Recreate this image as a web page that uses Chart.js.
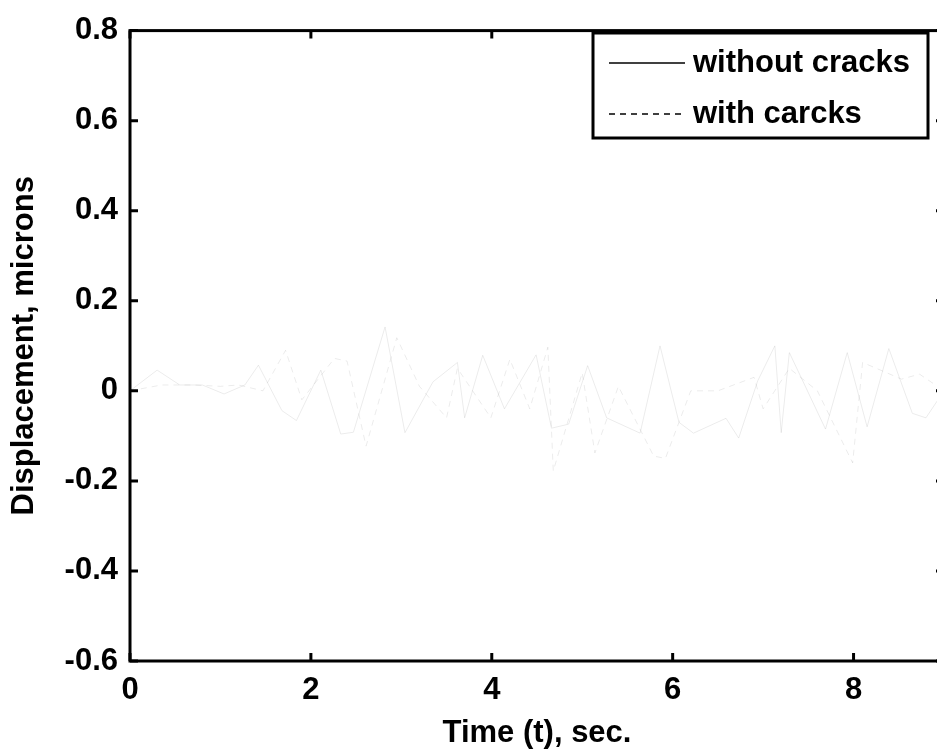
<!DOCTYPE html>
<html>
<head>
<meta charset="utf-8">
<script src="https://cdn.jsdelivr.net/npm/chart.js@4.4.0/dist/chart.umd.min.js"></script>
<style>
    body { margin: 0; background: #fff; overflow: hidden; }
    #wrap { width: 950px; height: 755px; }
</style>
</head>
<body>
<div id="wrap"><canvas id="dispChart" width="950" height="755"></canvas></div>
<script>
// values (the traces are very faint, mostly specks)
const timeWithout = [0, 0.3, 0.55, 0.8, 1.04, 1.27, 1.42, 1.68, 1.84, 2.11, 2.33, 2.47, 2.82, 3.04, 3.35, 3.62, 3.7, 3.9, 4.14, 4.49, 4.66, 4.85, 5.06, 5.27, 5.64, 5.86, 6.07, 6.23, 6.59, 6.73, 6.94, 7.13, 7.2, 7.29, 7.69, 7.93, 8.15, 8.39, 8.65, 8.8, 9.0];
const dispWithout = [0, 0.046, 0.013, 0.013, -0.007, 0.013, 0.057, -0.044, -0.066, 0.046, -0.096, -0.092, 0.142, -0.093, 0.02, 0.063, -0.06, 0.079, -0.04, 0.08, -0.083, -0.074, 0.056, -0.06, -0.094, 0.1, -0.07, -0.094, -0.061, -0.105, 0.022, 0.1, -0.093, 0.085, -0.085, 0.085, -0.08, 0.094, -0.05, -0.06, 0];

const timeWith = [0, 0.35, 0.7, 1.0, 1.2, 1.47, 1.72, 1.9, 2.26, 2.4, 2.61, 2.95, 3.2, 3.5, 3.62, 3.99, 4.2, 4.42, 4.62, 4.68, 5.0, 5.14, 5.4, 5.79, 5.92, 6.2, 6.5, 6.9, 7.0, 7.29, 7.6, 7.99, 8.1, 8.53, 8.73, 9.0];
const dispWith = [0, 0.013, 0.013, 0.01, 0.013, 0, 0.09, -0.02, 0.072, 0.066, -0.123, 0.118, 0.01, -0.06, 0.05, -0.06, 0.07, -0.04, 0.097, -0.178, 0.04, -0.138, 0.01, -0.145, -0.15, 0, 0, 0.03, -0.04, 0.05, 0, -0.16, 0.063, 0.026, 0.037, 0];

const seriesLabels = ['without cracks', 'with carcks'];
const xTicks = [0, 2, 4, 6, 8];
const yTicks = [-0.6, -0.4, -0.2, 0, 0.2, 0.4, 0.6, 0.8];

const FONT = 'Liberation Sans';
const labelFont = { family: FONT, size: 31, weight: 'bold' };

const toPoints = (xs, ys) => xs.map((x, i) => ({ x: x, y: ys[i] }));

// box round the axes with inward ticks, matlab style
const framePlugin = {
    id: 'frame',
    afterDatasetsDraw(chart) {
        const { ctx, chartArea: a, scales } = chart;
        ctx.save();
        ctx.strokeStyle = '#000';
        ctx.lineWidth = 3;
        ctx.strokeRect(a.left, a.top, a.right - a.left, a.bottom - a.top);
        const len = 8;
        ctx.beginPath();
        xTicks.forEach(v => {
            const px = scales.x.getPixelForValue(v);
            ctx.moveTo(px, a.bottom); ctx.lineTo(px, a.bottom - len);
            ctx.moveTo(px, a.top); ctx.lineTo(px, a.top + len);
        });
        yTicks.forEach(v => {
            const py = scales.y.getPixelForValue(v);
            ctx.moveTo(a.left, py); ctx.lineTo(a.left + len, py);
            ctx.moveTo(a.right, py); ctx.lineTo(a.right - len, py);
        });
        ctx.stroke();
        ctx.restore();
    }
};

// legend box in the top right corner
const boxLegend = {
    id: 'boxLegend',
    afterDraw(chart) {
        const ctx = chart.ctx;
        const bx = 593, by = 33, bw = 335, bh = 105;
        ctx.save();
        ctx.fillStyle = '#fff';
        ctx.fillRect(bx, by, bw, bh);
        ctx.strokeStyle = '#000';
        ctx.lineWidth = 3;
        ctx.strokeRect(bx, by, bw, bh);
        const rows = [63, 114];
        chart.data.datasets.forEach((ds, i) => {
            ctx.lineWidth = 1.5;
            ctx.setLineDash(ds.borderDash || []);
            ctx.beginPath();
            ctx.moveTo(609, rows[i]);
            ctx.lineTo(685, rows[i]);
            ctx.stroke();
            ctx.setLineDash([]);
            ctx.fillStyle = '#000';
            ctx.font = 'bold 31px "' + FONT + '"';
            ctx.textBaseline = 'middle';
            ctx.textAlign = 'left';
            ctx.fillText(ds.label, 693, rows[i]);
        });
        ctx.restore();
    }
};

const ctx = document.getElementById('dispChart').getContext('2d');
const dispChart = new Chart(ctx, {
    type: 'line',
    data: {
        datasets: [{
            label: seriesLabels[0],
            data: toPoints(timeWithout, dispWithout),
            borderColor: 'rgba(0, 0, 0, 0.08)',
            borderWidth: 1,
            pointRadius: 0,
            tension: 0
        }, {
            label: seriesLabels[1],
            data: toPoints(timeWith, dispWith),
            borderColor: 'rgba(0, 0, 0, 0.08)',
            borderWidth: 1,
            borderDash: [6, 5],
            pointRadius: 0,
            tension: 0
        }]
    },
    options: {
        responsive: false,
        animation: false,
        devicePixelRatio: 1,
        layout: { padding: { left: 0, top: 22, right: 6, bottom: 0 } },
        plugins: {
            legend: { display: false },
            tooltip: { enabled: false }
        },
        scales: {
            x: {
                type: 'linear',
                min: 0,
                max: 9,
                afterBuildTicks: (scale) => { scale.ticks = xTicks.map(v => ({ value: v })); },
                afterFit: (scale) => { scale.height = 94; },
                grid: { display: false, drawTicks: false },
                border: { display: false },
                ticks: {
                    color: '#000',
                    padding: 11,
                    maxRotation: 0,
                    font: labelFont,
                    callback: (v) => String(v)
                },
                title: {
                    display: true,
                    text: 'Time (t), sec.',
                    color: '#000',
                    font: labelFont,
                    padding: { top: 0, bottom: 3 }
                }
            },
            y: {
                type: 'linear',
                min: -0.6,
                max: 0.8,
                afterBuildTicks: (scale) => { scale.ticks = yTicks.map(v => ({ value: v })); },
                afterFit: (scale) => { scale.width = 130; },
                grid: { display: false, drawTicks: false },
                border: { display: false },
                ticks: {
                    color: '#000',
                    padding: 12,
                    font: labelFont,
                    callback: (v) => String(Number(v.toFixed(1)))
                },
                title: {
                    display: true,
                    text: 'Displacement, microns',
                    color: '#000',
                    font: labelFont,
                    padding: { top: 6, bottom: 0 }
                }
            }
        }
    },
    plugins: [framePlugin, boxLegend]
});
</script>
</body>
</html>
